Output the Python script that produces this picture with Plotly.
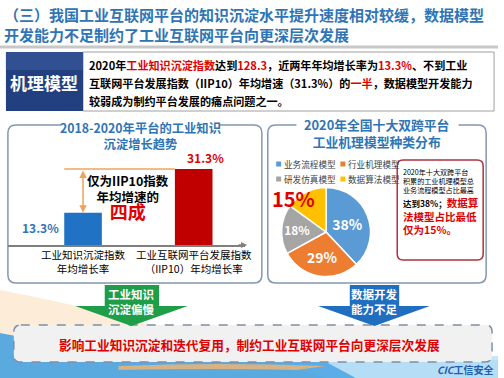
import math
import plotly.graph_objects as go

W, H = 504, 378
FONT = "Noto Sans CJK SC"

# ---------------- data ----------------
title_lines = ["（三）我国工业互联网平台的知识沉淀水平提升速度相对较缓，数据模型",
               "开发能力不足制约了工业互联网平台向更深层次发展"]
bar_categories = ["工业知识沉淀指数<br>年均增长率", "工业互联网平台发展指数<br>（IIP10）年均增长率"]
bar_values = [13.3, 31.3]
bar_labels = ["13.3%", "31.3%"]
bar_colors = ["#1f72c4", "#c00000"]

pie_labels = ["业务流程模型", "行业机理模型", "研发仿真模型", "数据算法模型"]
pie_values = [38, 29, 18, 15]
pie_colors = ["#5b9bd5", "#ed7d31", "#a5a5a5", "#ffc000"]

# ---------------- helpers ----------------
def X(x):
    return x / W

def Y(y):
    return 1 - y / H

def rrect(x0, y0, x1, y1, r):
    return (f"M {X(x0+r)},{Y(y0)} L {X(x1-r)},{Y(y0)} Q {X(x1)},{Y(y0)} {X(x1)},{Y(y0+r)} "
            f"L {X(x1)},{Y(y1-r)} Q {X(x1)},{Y(y1)} {X(x1-r)},{Y(y1)} "
            f"L {X(x0+r)},{Y(y1)} Q {X(x0)},{Y(y1)} {X(x0)},{Y(y1-r)} "
            f"L {X(x0)},{Y(y0+r)} Q {X(x0)},{Y(y0)} {X(x0+r)},{Y(y0)} Z")

def poly(pts):
    s = "M " + " L ".join(f"{X(a)},{Y(b)}" for a, b in pts) + " Z"
    return s

shapes = []
ann = []

def txt(x, y, s, size, color="#000000", bold=True, xanchor="center", yanchor="middle", align="center"):
    ann.append(dict(x=X(x), y=Y(y), xref="paper", yref="paper", text=s, showarrow=False,
                    xanchor=xanchor, yanchor=yanchor, align=align, borderpad=0,
                    font=dict(family=FONT, size=size, color=color,
                              weight="bold" if bold else "normal")))

RED = "#e00000"
BLUE_T = "#2f75b5"

# ---------------- background swoosh ----------------
shapes.append(dict(type="path", xref="paper", yref="paper", layer="below",
                   path=f"M {X(0)},{Y(290)} Q {X(150)},{Y(318)} {X(330)},{Y(378)} L {X(0)},{Y(378)} Z",
                   fillcolor="#fbe5cb", opacity=0.75, line=dict(width=0)))
shapes.append(dict(type="path", xref="paper", yref="paper", layer="below",
                   path=f"M {X(0)},{Y(333)} Q {X(160)},{Y(365)} {X(504)},{Y(360)} L {X(504)},{Y(378)} L {X(0)},{Y(378)} Z",
                   fillcolor="#3d9fe2", opacity=0.85, line=dict(width=0)))
shapes.append(dict(type="path", xref="paper", yref="paper", layer="below",
                   path=f"M {X(120)},{Y(366)} Q {X(220)},{Y(362)} {X(330)},{Y(366)} L {X(300)},{Y(370)} Q {X(220)},{Y(368)} {X(120)},{Y(370)} Z",
                   fillcolor="#f5b46e", opacity=0.8, line=dict(width=0)))
shapes.append(dict(type="path", xref="paper", yref="paper", layer="below",
                   path=f"M {X(330)},{Y(362)} Q {X(430)},{Y(358)} {X(504)},{Y(356)} L {X(504)},{Y(378)} L {X(360)},{Y(378)} Z",
                   fillcolor="#bfe2f7", opacity=0.9, line=dict(width=0)))

# ---------------- title ----------------
txt(3, 15, title_lines[0], 15, BLUE_T, xanchor="left")
txt(3, 34, title_lines[1], 15, BLUE_T, xanchor="left")
shapes.append(dict(type="line", xref="paper", yref="paper", x0=0, x1=1, y0=Y(47), y1=Y(47),
                   line=dict(color="#c8c8c8", width=3), layer="below"))

# ---------------- mechanism model box ----------------
shapes.append(dict(type="rect", xref="paper", yref="paper", x0=X(84), x1=X(500), y0=Y(111), y1=Y(52),
                   fillcolor="white", line=dict(color="#a0a0a0", width=1), layer="below"))
shapes.append(dict(type="rect", xref="paper", yref="paper", x0=X(6), x1=X(84), y0=Y(111), y1=Y(52),
                   fillcolor="#22407f", line=dict(width=0), layer="below"))
shapes.append(dict(type="rect", xref="paper", yref="paper", x0=X(6), x1=X(84), y0=Y(70), y1=Y(52),
                   fillcolor="#3a5c9c", opacity=0.6, line=dict(width=0), layer="below"))
txt(45, 82, "机理模型", 17, "white")
r = lambda s: f"<span style='color:{RED}'>{s}</span>"
txt(89, 65, "2020年" + r("工业知识沉淀指数") + "达到" + r("128.3") + "，近两年年均增长率为" + r("13.3%") + "、不到工业",
    11.1, xanchor="left")
txt(89, 83, "互联网平台发展指数（IIP10）年均增速（31.3%）的" + r("一半") + "，数据模型开发能力",
    11.1, xanchor="left")
txt(89, 101, "较弱成为制约平台发展的痛点问题之一。", 11.1, xanchor="left")

# ---------------- panels ----------------
for (x0, x1) in [(8, 265), (271, 492)]:
    shapes.append(dict(type="path", xref="paper", yref="paper", layer="below",
                       path=rrect(x0, 125, x1, 283, 8), fillcolor="white",
                       line=dict(color="#8497b0", width=1.5)))
shapes.append(dict(type="rect", xref="paper", yref="paper", x0=X(62), x1=X(222), y0=Y(133), y1=Y(118),
                   fillcolor="white", line=dict(width=0), layer="below"))
shapes.append(dict(type="rect", xref="paper", yref="paper", x0=X(300), x1=X(464), y0=Y(133), y1=Y(116),
                   fillcolor="white", line=dict(width=0), layer="below"))
txt(142, 136, "2018-2020年平台的工业知识<br>沉淀增长趋势", 12.3, BLUE_T)
txt(382, 133, "2020年全国十大双跨平台<br>工业机理模型种类分布", 12.8, BLUE_T)

# ---------------- bar chart ----------------
base_px, top_px, val_px = 245, 150, 169
ymax = max(bar_values) * (base_px - top_px) / (base_px - val_px)
fig = go.Figure()
fig.add_trace(go.Bar(x=[0, 1], y=bar_values, width=0.34, marker=dict(color=bar_colors, line=dict(width=0)),
                     showlegend=False, hoverinfo="skip"))
# value labels
ann.append(dict(x=0, y=bar_values[0], xref="x", yref="y", text=bar_labels[0], showarrow=False,
                xanchor="right", yanchor="top", xshift=-22, yshift=-4,
                font=dict(family=FONT, size=12, color=BLUE_T, weight="bold")))
ann.append(dict(x=1, y=bar_values[1], xref="x", yref="y", text=bar_labels[1], showarrow=False,
                xanchor="center", yanchor="bottom", xshift=12, yshift=1,
                font=dict(family=FONT, size=12, color=RED, weight="bold")))
# comparison bracket
shapes.append(dict(type="line", xref="x", yref="y", x0=-0.17, x1=0.83, y0=bar_values[1], y1=bar_values[1],
                   line=dict(color="#f0a35e", width=1.5), layer="above"))
ann.append(dict(x=0, y=bar_values[0], ax=0, ay=bar_values[1], xref="x", yref="y", axref="x", ayref="y",
                text="", showarrow=True, arrowhead=2, arrowside="end+start", arrowsize=1,
                arrowwidth=1.5, arrowcolor="#f0a35e"))
txt(130, 197, "仅为IIP10指数<br>年均增速的<br><span style='color:#e00000;font-size:18px'>四成</span>", 12.5)
# axis arrow
ann.append(dict(x=X(250), y=Y(base_px), ax=-10, ay=0, xref="paper", yref="paper",
                axref="pixel", ayref="pixel", text="", showarrow=True, arrowhead=2, arrowsize=0.8,
                arrowwidth=1.5, arrowcolor="#7f7f7f"))

# ---------------- pie ----------------
cx, cy, rad = 330, 232, 45
fig.add_trace(go.Pie(labels=pie_labels, values=pie_values, sort=False, direction="clockwise", rotation=0,
                     marker=dict(colors=pie_colors, line=dict(color="white", width=1.5)),
                     texttemplate=["%{value}%", "%{value}%", "%{value}%", ""],
                     textposition="inside", insidetextorientation="horizontal",
                     textfont=dict(family=FONT, size=14, color="white", weight="bold"),
                     domain=dict(x=[X(cx-rad), X(cx+rad)], y=[Y(cy+rad), Y(cy-rad)]),
                     showlegend=False, hoverinfo="skip"))
# label of the smallest slice, outside-ish in red
tot = sum(pie_values)
mid = (sum(pie_values[:3]) + pie_values[3] / 2) / tot * 2 * math.pi
lx = cx + math.sin(mid) * rad * 0.95 - 14
ly = cy - math.cos(mid) * rad * 0.95 + 5
txt(lx, ly, f"{pie_values[3]}%", 20, RED)

# manual legend
leg_pos = [(282, 164), (347, 164), (282, 179), (347, 179)]
for (lxp, lyp), lab, col in zip(leg_pos, pie_labels, pie_colors):
    shapes.append(dict(type="rect", xref="paper", yref="paper", x0=X(lxp-2.5), x1=X(lxp+2.5),
                       y0=Y(lyp+2.5), y1=Y(lyp-2.5), fillcolor=col, line=dict(width=0)))
    txt(lxp + 4.5, lyp, lab, 8.6, "#404040", bold=False, xanchor="left")

# note box
shapes.append(dict(type="path", xref="paper", yref="paper", layer="below",
                   path=rrect(402, 160, 489, 260, 6), fillcolor="white",
                   line=dict(color="#b03040", width=1.5)))
txt(407, 166, "2020年十大双跨平台<br>积累的工业机理模型总<br>业务流程模型占比最高", 7.1,
    xanchor="left", yanchor="top", bold=False, align="left")
txt(407, 194, "<span style='color:#000000;font-size:8.5px'>达到38%；</span>数据算<br>法模型占比最低<br>仅为15%。",
    10.5, RED, xanchor="left", yanchor="top", align="left")

# ---------------- bottom arrows & conclusion ----------------
shapes.append(dict(type="path", xref="paper", yref="paper", layer="below",
                   path=rrect(14, 325, 498, 362, 7), fillcolor="#f1f1f1",
                   line=dict(color="#7f8fa6", width=1.5, dash="dash")))
shapes.append(dict(type="path", xref="paper", yref="paper",
                   path=poly([(106, 285), (161, 285), (161, 306), (190, 306), (133, 326), (76, 306), (106, 306)]),
                   fillcolor="#1f9e4a", line=dict(width=0)))
shapes.append(dict(type="path", xref="paper", yref="paper",
                   path=poly([(354, 285), (404, 285), (404, 306), (435, 306), (379, 326), (322, 306), (354, 306)]),
                   fillcolor="#1f6ec0", line=dict(width=0)))
txt(133, 301, "工业知识<br>沉淀偏慢", 11.5, "white")
txt(379, 301, "数据开发<br>能力不足", 11.5, "white")
txt(252, 344, "影响工业知识沉淀和迭代复用，制约工业互联网平台向更深层次发展", 12.7, RED)
txt(500, 369, "<span style='font-style:italic'>CIC</span>工信安全", 10, "#1f5fae", xanchor="right")

fig.update_layout(
    width=W, height=H, margin=dict(l=0, r=0, t=0, b=0),
    paper_bgcolor="white", plot_bgcolor="rgba(0,0,0,0)",
    xaxis=dict(domain=[X(8), X(248)], range=[-0.679, 1.464], tickvals=[0, 1], ticktext=bar_categories,
               showline=True, linecolor="#7f7f7f", linewidth=1.5, showgrid=False, zeroline=False,
               ticks="", tickfont=dict(family=FONT, size=10.5, color="#000000"), fixedrange=True),
    yaxis=dict(domain=[Y(base_px), Y(top_px)], range=[0, ymax], visible=False, fixedrange=True),
    shapes=shapes, annotations=ann, showlegend=False,
    font=dict(family=FONT),
)
fig.write_html("out.html", post_script="document.body.style.margin='0';", config={"displayModeBar": False})
